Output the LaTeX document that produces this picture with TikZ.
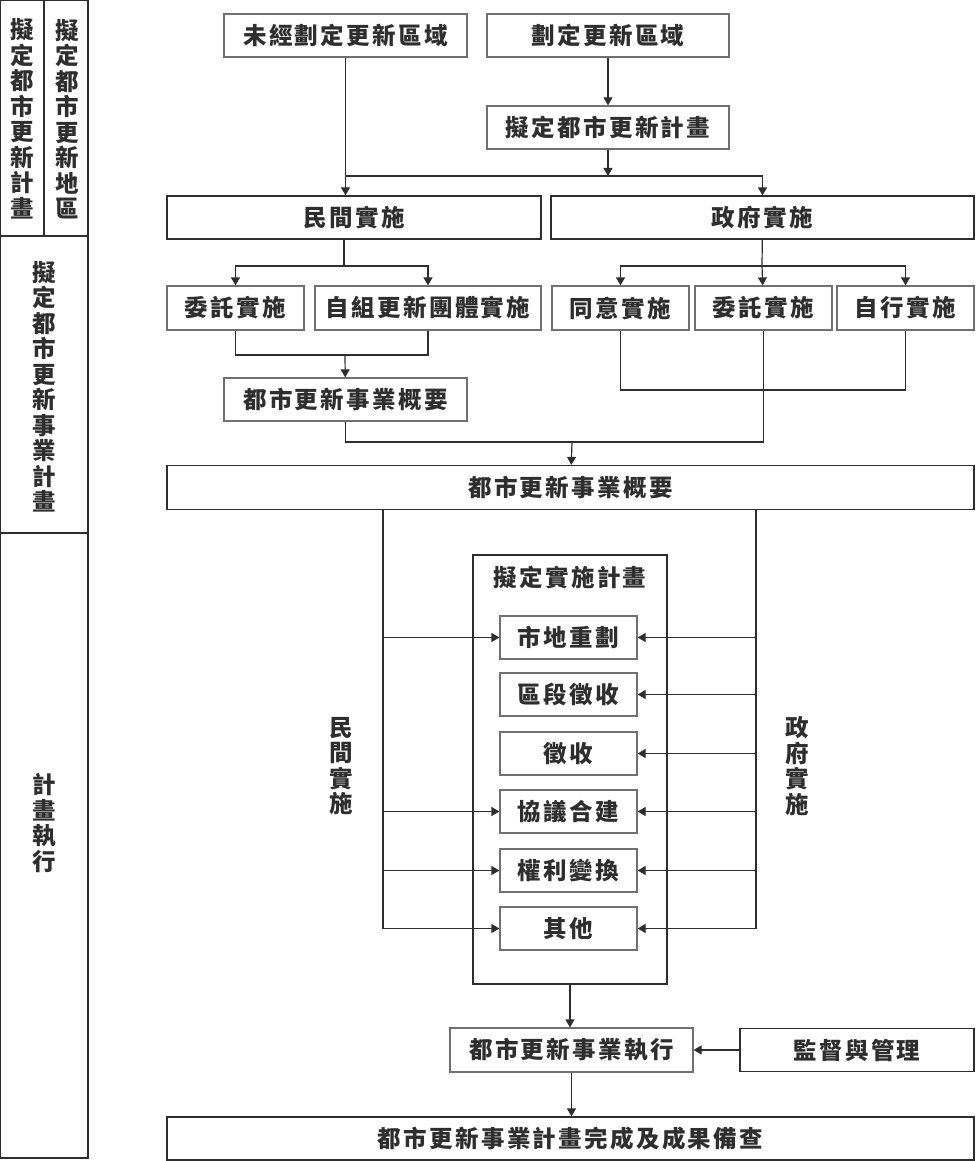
\documentclass[tikz,border=0pt]{standalone}
\usepackage{fontspec}
\usepackage{tikz}
\usetikzlibrary{arrows.meta}
\newfontfamily\cjk[LetterSpace=10]{Noto Sans CJK TC}
\newfontfamily\cjkv{Noto Sans CJK TC}
\definecolor{ink}{HTML}{2E2E2E}
\definecolor{edge}{HTML}{707070}

\begin{document}
\begin{tikzpicture}[x=1pt,y=-1pt,line width=1.2pt,draw=ink,text=ink,
    >={Triangle[width=9pt,length=8pt]},
    txt/.style={inner sep=0pt,font=\cjk\bfseries\fontsize{23.5}{26}\selectfont},
    box/.style={txt,draw=ink},
    sbox/.style={box,draw=edge},
    vtxt/.style={align=center,inner sep=0pt,font=\cjkv\bfseries\fontsize{23.5}{25.5}\selectfont}]
  \useasboundingbox (0,0) rectangle (975,1161);

  % left column
  \draw (0.6,0.6) rectangle (88,1158);
  \draw (44,0.6) -- (44,236);
  \draw (0.6,236) -- (88,236);
  \draw (0.6,533) -- (88,533);
  \node[vtxt] (colA) at (22,119) {擬\\定\\都\\市\\更\\新\\計\\畫};
  \node[vtxt] (colB) at (67,119) {擬\\定\\都\\市\\更\\新\\地\\區};
  \node[vtxt] (colC) at (44,387) {擬\\定\\都\\市\\更\\新\\事\\業\\計\\畫};
  \node[vtxt] (colD) at (44,823) {計\\畫\\執\\行};

  % top
  \node[sbox,minimum width=243pt,minimum height=43pt] (unplan) at (345.5,35.5) {未經劃定更新區域};
  \node[sbox,minimum width=242pt,minimum height=43pt] (plan) at (608,35.5) {劃定更新區域};
  \node[sbox,minimum width=242pt,minimum height=43pt] (planmk) at (608,127.5) {擬定都市更新計畫};
  \node[box,minimum width=374pt,minimum height=43pt] (priv) at (354,217.5) {民間實施};
  \node[box,minimum width=423pt,minimum height=43pt] (gov) at (762.5,217.5) {政府實施};

  \node[sbox,minimum width=137pt,minimum height=44pt] (pA) at (235.5,308) {委託實施};
  \node[sbox,minimum width=226pt,minimum height=44pt] (pB) at (428,308) {自組更新團體實施};
  \node[sbox,minimum width=137pt,minimum height=44pt] (gA) at (620.5,308) {同意實施};
  \node[sbox,minimum width=137pt,minimum height=44pt] (gB) at (763.5,308) {委託實施};
  \node[sbox,minimum width=137pt,minimum height=44pt] (gC) at (905.5,308) {自行實施};

  \node[sbox,minimum width=243pt,minimum height=43pt] (summ) at (345.5,399.5) {都市更新事業概要};
  \node[box,minimum width=807pt,minimum height=44pt] (big) at (570.5,487.5) {都市更新事業概要};

  \coordinate (j1) at (608,176);
  \coordinate (pj) at (344,266);
  \coordinate (pm) at (345,355);
  \coordinate (gj) at (762,266);
  \coordinate (gm) at (762,390);
  \coordinate (sj) at (572,442);

  \draw[->] (plan) -- (planmk);
  \draw[->] (planmk) -- (j1);
  \draw[->] (unplan.south) -- (unplan.south |- priv.north);
  \draw[->] (j1 -| unplan.south) -- (j1 -| gov) -- (gov.north);
  \draw (pj |- priv.south) -- (pj);
  \draw[<->] (pA) |- (pj) -| (pB);
  \draw (pA) |- (pm) -| (pB);
  \draw[->] (pm) -- (summ);
  \draw (gov) -- (gj);
  \draw[<->] (gA) |- (gj) -| (gC);
  \draw[->] (gj) -- (gB);
  \draw (gA) |- (gm) -| (gC);
  \draw (gB) |- (sj) -| (summ);
  \draw[->] (sj) -- (big);

  % plan of execution
  \node[box,minimum width=194pt,minimum height=429pt] (plbox) at (570,769.5) {};
  \node[txt] (pltitle) at (570,578) {擬定實施計畫};
  \node[sbox,minimum width=137pt,minimum height=43pt] (m1) at (568.5,637.5) {市地重劃};
  \node[sbox,minimum width=137pt,minimum height=43pt] (m2) at (568.5,694.5) {區段徵收};
  \node[sbox,minimum width=137pt,minimum height=43pt] (m3) at (568.5,753.5) {徵收};
  \node[sbox,minimum width=137pt,minimum height=43pt] (m4) at (568.5,811.5) {協議合建};
  \node[sbox,minimum width=137pt,minimum height=43pt] (m5) at (568.5,870.5) {權利變換};
  \node[sbox,minimum width=137pt,minimum height=43pt] (m6) at (568.5,928.5) {其他};
  \node[vtxt] (privlbl) at (341,766) {民\\間\\實\\施};
  \node[vtxt] (govlbl) at (797,766) {政\\府\\實\\施};

  \coordinate (lv) at (383,929);
  \coordinate (rv) at (756,929);
  \draw (lv |- big.south) -- (lv);
  \draw (rv |- big.south) -- (rv);
  \foreach \m in {m1,m4,m5,m6}
    \draw[->] (lv |- \m) -- (\m);
  \foreach \m in {m1,m2,m3,m4,m5,m6}
    \draw[->] (rv |- \m) -- (\m);

  % bottom
  \node[sbox,minimum width=243pt,minimum height=44pt] (exec) at (571.5,1050) {都市更新事業執行};
  \node[box,minimum width=234pt,minimum height=43pt] (sup) at (857,1050) {監督與管理};
  \node[box,minimum width=807pt,minimum height=43pt] (final) at (570.5,1138.5) {都市更新事業計畫完成及成果備查};

  \draw[->] (plbox.south) -- (plbox.south |- exec.north);
  \draw[->] (sup) -- (exec);
  \draw[->] (exec.south) -- (exec.south |- final.north);
\end{tikzpicture}
\end{document}
